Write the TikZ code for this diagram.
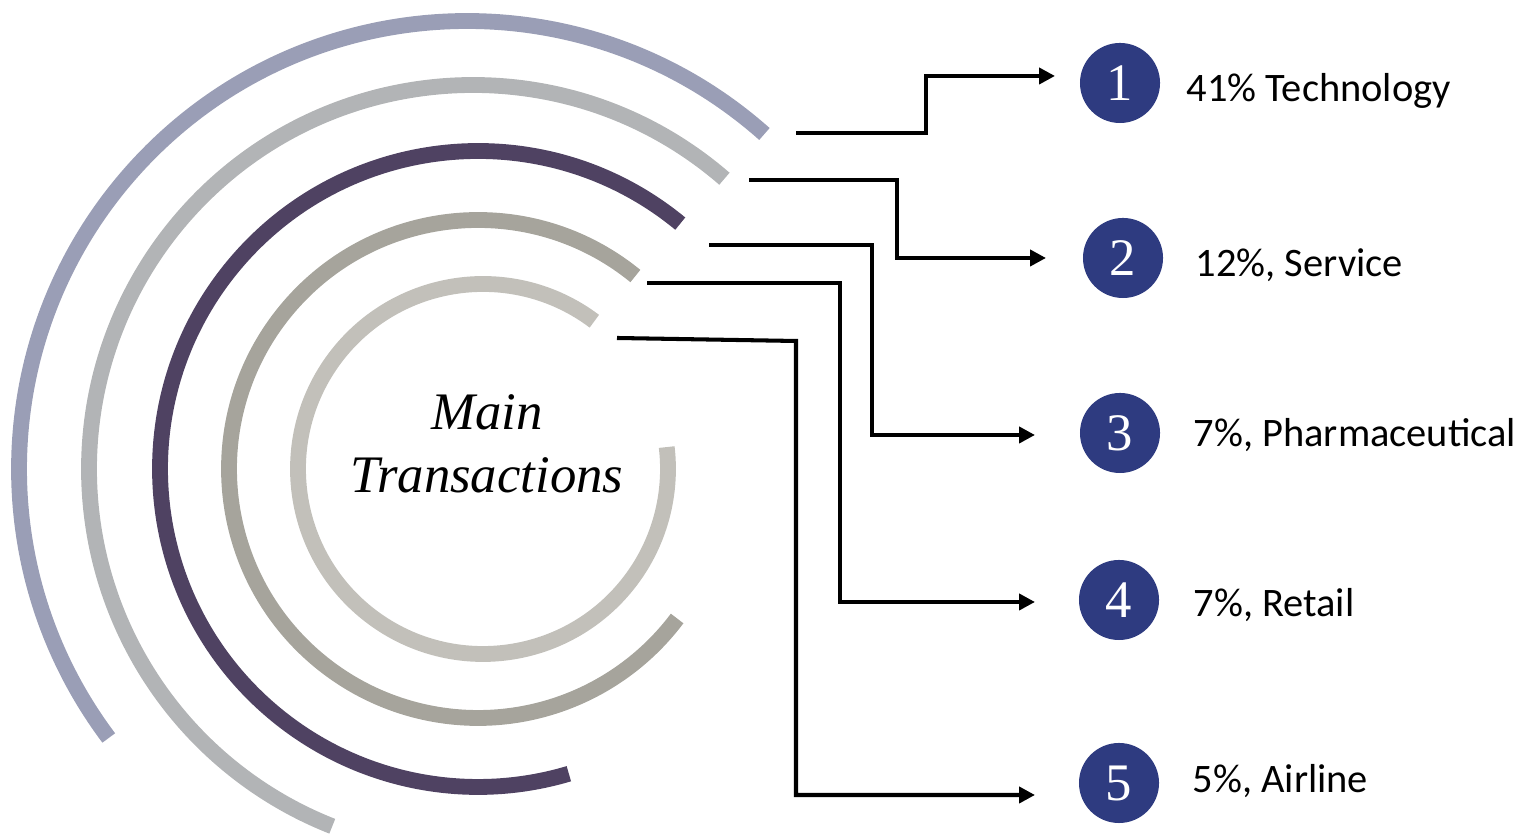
\documentclass[tikz,border=0pt]{standalone}
\usepackage{fontspec}
\setmainfont{Liberation Serif}
\newfontfamily\labelfont{Carlito}
\usetikzlibrary{arrows.meta, positioning}
\definecolor{ringA}{HTML}{9A9EB6}
\definecolor{ringB}{HTML}{B2B4B6}
\definecolor{ringC}{HTML}{4F4262}
\definecolor{ringD}{HTML}{A6A49C}
\definecolor{ringE}{HTML}{C2C0BA}
\definecolor{badgeCol}{HTML}{2E3B80}

\begin{document}
\begin{tikzpicture}[
    x=0.01cm, y=0.01cm,
    >={Triangle[length=4.5pt, width=4.5pt]},
    ring/.style={line width=4.5pt},
    link/.style={line width=1.15pt, ->},
    badge/.style={circle, fill=badgeCol, minimum size=0.8cm, inner sep=0pt, text=white, font=\fontsize{15}{15}\selectfont},
    share/.style={anchor=base west, inner sep=0pt, font=\labelfont\fontsize{11.5}{13}\selectfont, text=black}
]
\useasboundingbox (0,0) rectangle (1521,834);

% --- 1. CONCENTRIC RINGS ---
\foreach \cx/\r/\a/\b/\col in {467/448/48.4/216.9/ringA, 473/384/49.1/248.5/ringB,
    478/318/50.5/286.6/ringC, 478/249/50.8/323.1/ringD, 483/185/53/366.8/ringE}
    \draw[ring, \col] (\cx,365) ++(\a:\r) arc[start angle=\a, end angle=\b, radius=\r];

\node[font=\itshape\fontsize{15}{18}\selectfont, align=center] (title) at (487,390) {Main\\Transactions};

% --- 2. NUMBER BADGES ---
\foreach \i/\px/\py in {1/1120/751, 2/1123/576, 3/1120/401, 4/1119/234, 5/1119/51}
    \node[badge] (n\i) at (\px,\py) {\i};

% --- 3. SHARE LABELS ---
\node[share] (lab1) at (1186,732) {41\% Technology};
\node[share] (lab2) at (1195,557) {12\%, Service};
\node[share] (lab3) at (1193,387) {7\%, Pharmaceutical};
\node[share] (lab4) at (1193,217) {7\%, Retail};
\node[share] (lab5) at (1192,41) {5\%, Airline};

% --- 4. CONNECTORS ---
\coordinate (s1) at (796,701); \coordinate (t1) at (1055,758);
\coordinate (s2) at (749,654); \coordinate (t2) at (1046,576);
\coordinate (s3) at (709,589); \coordinate (t3) at (1035,399);
\coordinate (s4) at (647,551); \coordinate (t4) at (1035,232);
\coordinate (s5) at (617,496); \coordinate (t5) at (1035,39);

\draw[link] (s1) -- ++(130,0) |- (t1);
\draw[link] (s2) -- ++(148,0) |- (t2);
\draw[link] (s3) -- ++(163,0) |- (t3);
\draw[link] (s4) -- ++(193,0) |- (t4);
\draw[link] (s5) -- ++(179,-3) |- (t5);

\end{tikzpicture}
\end{document}
